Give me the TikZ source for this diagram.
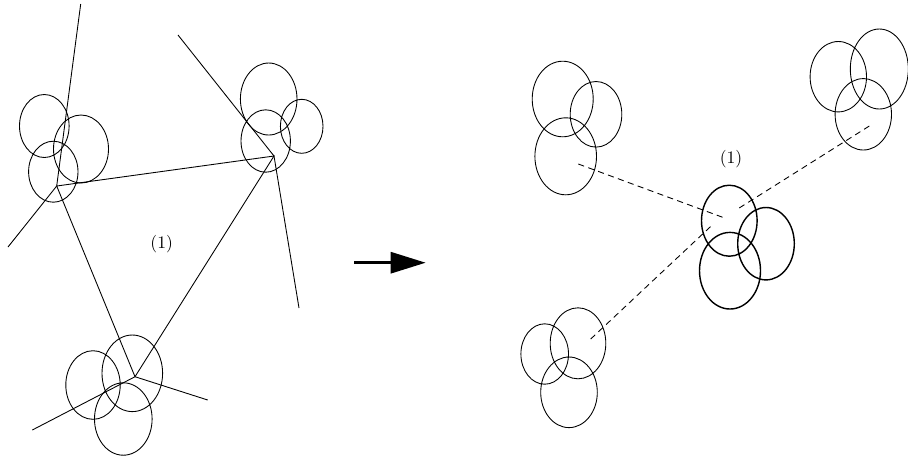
\documentclass[tikz,border=0pt]{standalone}
\usepackage{tikz}
\usetikzlibrary{arrows.meta}
\begin{document}
\begin{tikzpicture}[x=0.02cm,y=-0.02cm,line width=0.5pt,
  grp/.style={line width=0.5pt},
  grpb/.style={line width=0.8pt},
  link/.style={line width=0.5pt,dash pattern=on 3.5pt off 2.5pt},
  lbl/.style={font=\normalsize,inner sep=0pt}]
\useasboundingbox (0,0) rectangle (908,458);
% left: before
\coordinate (tl) at (56.7,186);
\coordinate (tr) at (274,156);
\coordinate (bt) at (135,376.7);
\coordinate (tlA) at (80.7,4);
\coordinate (tlB) at (8,247);
\coordinate (trA) at (178,35);
\coordinate (trB) at (299,308);
\coordinate (btA) at (207.7,400);
\coordinate (btB) at (32.3,430);
\draw (tl) -- (tr) -- (bt) -- cycle;
\draw (tlA) -- (tl) -- (tlB);
\draw (trA) -- (tr) -- (trB);
\draw (btA) -- (bt) -- (btB);
\draw[grp] (44.3,126) ellipse (24.8 and 31.5)
  (81,149) ellipse (27.5 and 34)
  (53.3,171.7) ellipse (24.7 and 30.5);
\draw[grp] (268.7,99) ellipse (28.3 and 36)
  (301.7,126.3) ellipse (21.3 and 27)
  (265.7,141) ellipse (24.7 and 31.2);
\draw[grp] (93,385) ellipse (27.2 and 34.3)
  (132.3,373.3) ellipse (30.3 and 38.3)
  (123.3,419) ellipse (28.8 and 36.2);
\node[lbl] (one) at (161.7,244.3) {(1)};
% arrow
\coordinate (arA) at (354,262.7);
\coordinate (arB) at (425.7,262.7);
\draw[line width=1.7pt,-{Triangle[length=0.7cm,width=0.42cm]}] (arA) -- (arB);
% right: after
\draw[grp] (562.7,99) ellipse (30.5 and 37.8)
  (596,114.3) ellipse (25.8 and 32.8)
  (565.7,156.3) ellipse (30.8 and 38.5);
\draw[grp] (838.3,76.7) ellipse (28.2 and 35.2)
  (879.3,69) ellipse (29 and 40)
  (863.3,114.3) ellipse (28.2 and 35.7);
\draw[grpb] (729.3,220.7) ellipse (27.8 and 35.5)
  (766,243.7) ellipse (28.3 and 36.2)
  (730,270.7) ellipse (30.5 and 38.3);
\draw[grp] (544.7,354) ellipse (23.8 and 30.2)
  (578,343.3) ellipse (27.8 and 35.5)
  (569,392.3) ellipse (28.3 and 35.3);
\coordinate (ctA) at (722.7,217.3);
\coordinate (ctB) at (736,210);
\coordinate (ctC) at (713.3,224);
\coordinate (gA) at (578.3,164);
\coordinate (gB) at (869.3,126);
\coordinate (gC) at (590.7,339);
\draw[link] (gA) -- (ctA);
\draw[link] (gB) -- (ctB);
\draw[link] (gC) -- (ctC);
\node[lbl] (two) at (731,159.3) {(1)};
\end{tikzpicture}
\end{document}
